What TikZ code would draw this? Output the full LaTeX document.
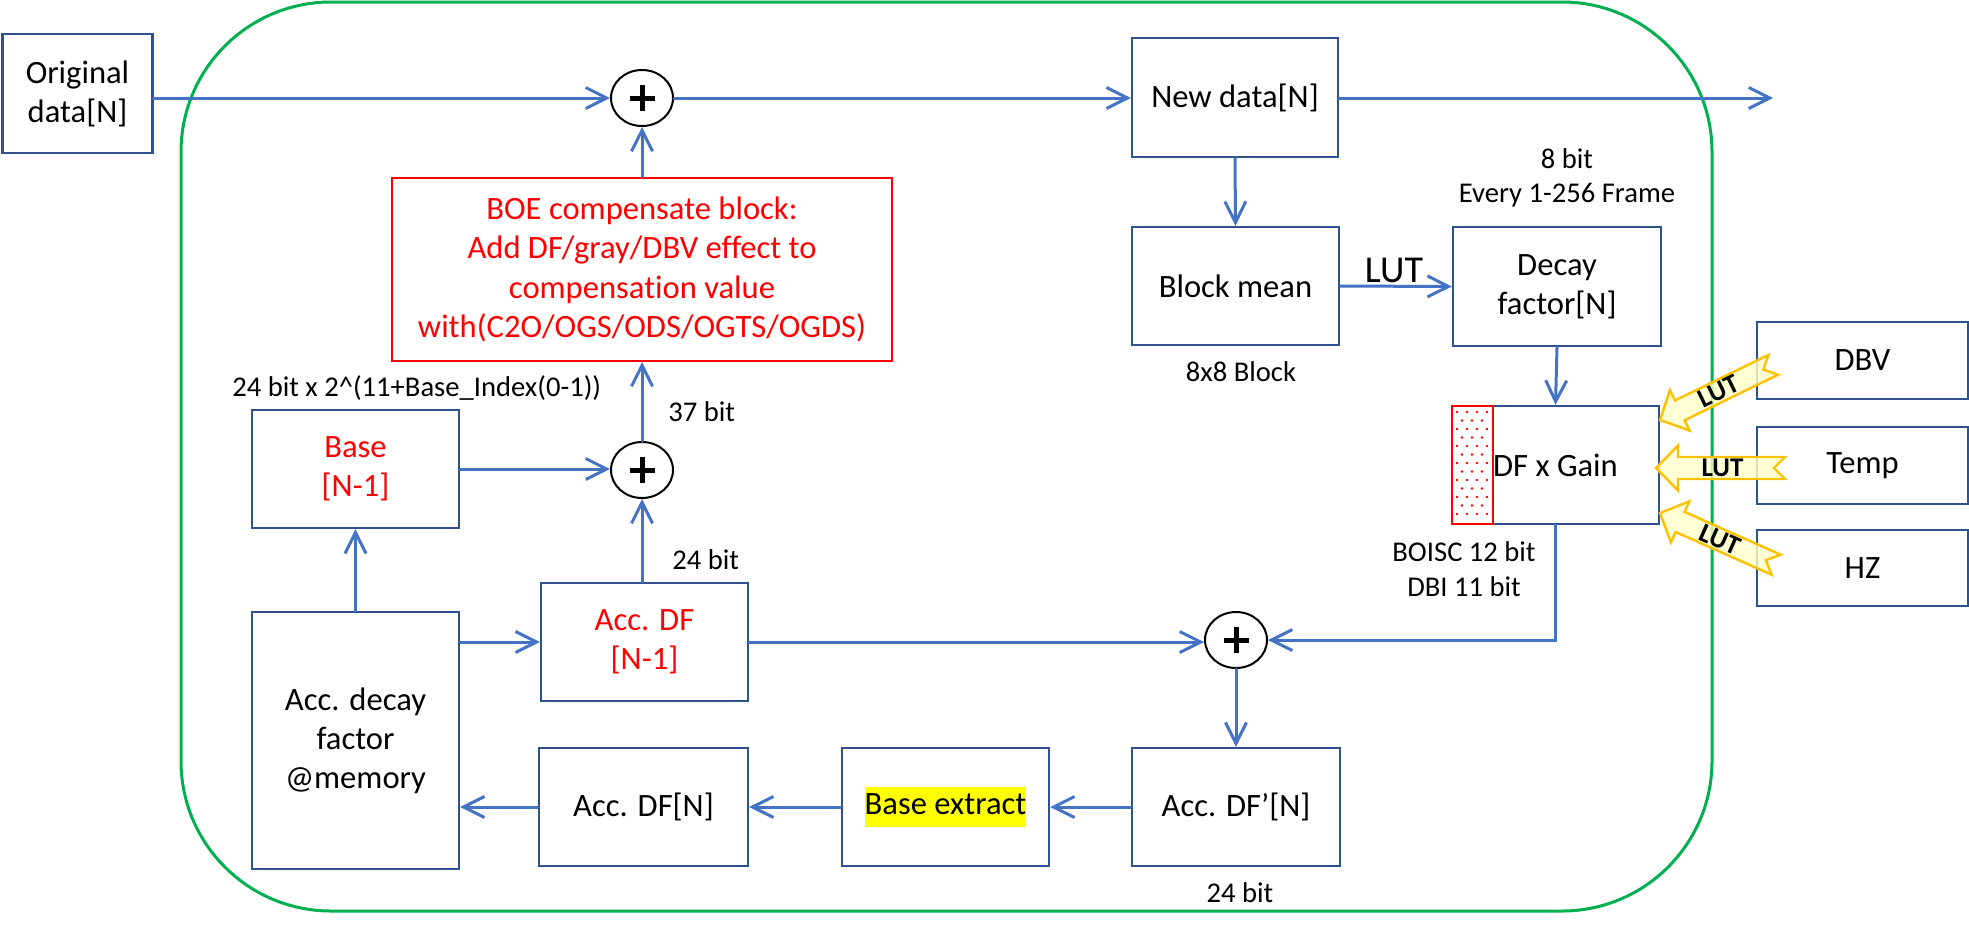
\documentclass[tikz,border=0pt]{standalone}
\usepackage{fontspec}
\setmainfont{Carlito}[Ligatures=NoCommon]
\usetikzlibrary{arrows.meta,shapes.geometric}
\definecolor{boxblue}{RGB}{47,82,143}
\definecolor{lineblue}{RGB}{68,114,196}
\definecolor{ogreen}{RGB}{0,176,80}
\definecolor{gold}{RGB}{255,192,0}
\definecolor{paleyellow}{RGB}{255,255,200}
\definecolor{hlyellow}{RGB}{255,255,0}
\newcommand\dmain{\fontsize{16.3}{19.6}\selectfont}
\newcommand\dsmall{\fontsize{14.3}{17.3}\selectfont}
\newcommand\dlut{\fontsize{19}{22}\selectfont}
\newcommand\dlutb{\fontsize{13.5}{15}\selectfont\bfseries}
\newcommand\lutshape[4]{%
  \begin{scope}[shift={(#1,#2)},rotate=#3]
    \filldraw[fill=paleyellow, fill opacity=0.8, draw=gold, line width=1.2pt, line join=miter]
      (0,0) -- (22,-22.5) -- (22,-11) -- (#4,-11) -- ({#4-11},0) -- (#4,11) -- (22,11) -- (22,22.5) -- cycle;
  \end{scope}}
\newcommand\luttext[5]{%
  \begin{scope}[shift={(#1,#2)},rotate=#3]
    \node[font=\dlutb, rotate=#3, inner sep=0pt] (#5) at ({#4/2+2},0) {LUT};
  \end{scope}}
\begin{document}
\begin{tikzpicture}[x=0.5pt,y=-0.5pt,
  box/.style={draw=boxblue, line width=1.2pt, align=center, inner sep=0pt, font=\dmain},
  redbox/.style={draw=red, line width=1pt, align=center, inner sep=0pt, font=\dmain, text=red},
  lbl/.style={font=\dsmall, align=center, inner sep=0pt},
  conn/.style={draw=lineblue, line width=1.5pt, line cap=round,
    -{Straight Barb[length=10.5pt,width=10.5pt,line width=1.5pt]}},
  sumnode/.style={ellipse, draw=black, line width=1pt, minimum width=31pt, minimum height=28pt, inner sep=0pt,
    path picture={
      \draw[line width=2.5pt] ([xshift=-6.25pt]path picture bounding box.center) -- ([xshift=6.25pt]path picture bounding box.center);
      \draw[line width=2.5pt] ([yshift=-6.5pt]path picture bounding box.center) -- ([yshift=6.5pt]path picture bounding box.center);}}
]
\useasboundingbox (0,0) rectangle (1969,928);

% green boundary
\draw[draw=ogreen, line width=1.5pt, rounded corners=75pt] (181,2) rectangle (1712,911);

% boxes
\node[box, minimum width=75pt, minimum height=59.5pt] (orig) at (77.5,93.5) {Original\\data[N]};
\node[box, minimum width=103pt, minimum height=59.5pt] (newd) at (1235,97.5) {New data[N]};
\node[box, minimum width=103.5pt, minimum height=59pt] (bmean) at (1235.5,286) {Block mean};
\node[box, minimum width=104pt, minimum height=59.5pt] (decay) at (1557,286.5) {Decay\\factor[N]};
\node[box, minimum width=103.5pt, minimum height=59pt] (dfg) at (1555.5,465) {};
\node[box, minimum width=105.5pt, minimum height=38.5pt] (dbv) at (1862.5,360.5) {DBV};
\node[box, minimum width=105.5pt, minimum height=38.5pt] (temp) at (1862.5,465.5) {Temp};
\node[box, minimum width=105.5pt, minimum height=38pt] (hz) at (1862.5,568) {HZ};
\node[redbox, minimum width=250pt, minimum height=91.5pt] (boe) at (642,269.5)
  {BOE compensate block:\\Add DF/gray/DBV effect to\\compensation value\\with(C2O/OGS/ODS/OGTS/OGDS)};
\node[box, text=red, minimum width=103.5pt, minimum height=59pt] (base) at (355.5,469) {Base\\{[N-1]}};
\node[box, minimum width=103.5pt, minimum height=128.5pt] (accdec) at (355.5,740.5) {Acc. decay\\factor\\@memory};
\node[box, text=red, minimum width=103.5pt, minimum height=59pt] (accdfa) at (644.5,642) {Acc. DF\\{[N-1]}};
\node[box, minimum width=104.5pt, minimum height=59pt] (accdfn) at (643.5,807) {Acc. DF[N]};
\node[box, minimum width=103.5pt, minimum height=59pt] (bext) at (945.5,807)
  {{\setlength\fboxsep{0pt}\colorbox{hlyellow}{\strut Base extract}}};
\node[box, minimum width=104pt, minimum height=59pt] (accdfp) at (1236,807) {Acc. DF’[N]};

% red dotted strip in DF x Gain
\foreach \i in {0,...,6} {
  \foreach \xx in {1457,1467,1477,1487} { \fill[red] (\xx,{412+\i*17}) circle (1.3); }
}
\foreach \i in {0,...,5} {
  \foreach \xx in {1462,1472,1482} { \fill[red] (\xx,{420.5+\i*17}) circle (1.3); }
}
\draw[red, line width=1pt] (1452,406) rectangle (1493,524);
\node[font=\dmain, inner sep=0pt] (dfgtext) at (dfg) {DF x Gain};

% sum nodes
\node[sumnode] (p1) at (642,98) {};
\node[sumnode] (p2) at (642,470) {};
\node[sumnode] (p3) at (1236,640) {};

% connectors
\coordinate (out) at (1773,98);
\draw[conn] (orig.east |- p1.west) -- (p1.west);
\draw[conn] (p1.east) -- (p1.east -| newd.west);
\draw[conn] (newd.east |- out) -- (out);
\draw[conn] (newd.south) -- (bmean.north);
\draw[conn] (bmean.east) -- (decay.west);
\draw[conn] (decay.south) -- (dfg.north);
\draw[conn] (dfg.south) |- (p3.east);
\draw[conn] (p3.south) -- (accdfp.north);
\draw[conn] (accdfp.west) -- (bext.east);
\draw[conn] (bext.west) -- (accdfn.east);
\draw[conn] (accdfn.west) -- (accdfn.west -| accdec.east);
\draw[conn] (accdec.east |- accdfa.west) -- (accdfa.west);
\draw[conn] (accdec.north) -- (base.south);
\draw[conn] (base.east) -- (base.east -| p2.west);
\draw[conn] (p2.south |- accdfa.north) -- (p2.south);
\draw[conn] (accdfa.east) -- (accdfa.east -| p3.west);
\draw[conn] (p2.north) -- (boe.south);
\draw[conn] (boe.north) -- (p1.south);

% LUT arrows
\lutshape{1660}{420}{26}{126}
\lutshape{1656}{468}{0}{129}
\lutshape{1660}{513}{-24}{127}
\luttext{1660}{420}{26}{126}{lutdbv}
\luttext{1656}{468}{0}{129}{luttemp}
\luttext{1660}{513}{-24}{127}{luthz}

% labels
\node[font=\dlut, inner sep=0pt] (lutlbl) at (1394,270) {LUT};
\node[lbl] (lbl8bit) at (1567,178) {8 bit\\Every 1-256 Frame};
\node[lbl] (lbl8x8) at (1241,372) {8x8 Block};
\node[lbl] (lblboisc) at (1464,569) {BOISC 12 bit\\DBI 11 bit};
\node[lbl] (lbl24c) at (1240,893) {24 bit};
\node[lbl, anchor=west] (lblbase) at (232,388) {24 bit x 2\textasciicircum(11+Base\_Index(0-1))};
\node[lbl, anchor=west] (lbl37) at (668,412) {37 bit};
\node[lbl, anchor=west] (lbl24a) at (672,560) {24 bit};
\end{tikzpicture}
\end{document}
